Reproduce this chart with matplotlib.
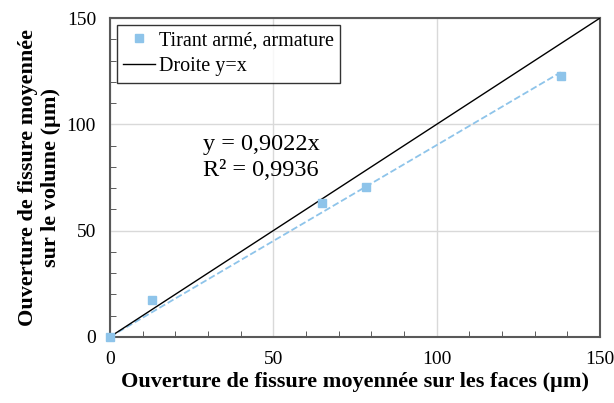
import matplotlib
matplotlib.use('Agg')
import matplotlib.pyplot as plt
import numpy as np
from matplotlib.ticker import MultipleLocator

# Data
x_faces = [0, 13, 65, 78.5, 138]
y_volume = [0, 17.5, 63, 70.5, 122.7]
slope = 0.9022
r2_text = "0,9936"

plt.rcParams['font.family'] = ['Liberation Serif', 'DejaVu Serif']

fig = plt.figure(figsize=(6.14, 4.03), dpi=100)
ax = fig.add_axes([0.179, 0.164, 0.798, 0.791])

blue = '#8ec4ea'
ax.plot(x_faces, y_volume, 's', color=blue, markersize=5.5, label='Tirant armé, armature',
        zorder=4, clip_on=False)
xt = np.array([0, max(x_faces)])
ax.plot(xt, slope * xt, '--', color=blue, lw=1.3, zorder=3)
ax.plot([0, 150], [0, 150], color='black', lw=1.0, label='Droite y=x', zorder=3)

ax.set_xlim(0, 150)
ax.set_ylim(0, 150)
ax.xaxis.set_major_locator(MultipleLocator(50))
ax.yaxis.set_major_locator(MultipleLocator(50))
ax.xaxis.set_minor_locator(MultipleLocator(10))
ax.yaxis.set_minor_locator(MultipleLocator(10))
ax.tick_params(which='major', direction='in', length=0, labelsize=14, pad=10)
ax.tick_params(which='minor', direction='in', length=4, color='#404040')
ax.grid(True, which='major', color='#d9d9d9', lw=1.0)
for s in ax.spines.values():
    s.set_color('#595959')
    s.set_linewidth(1.5)

ax.set_xlabel('Ouverture de fissure moyennée sur les faces (µm)', fontsize=16,
              fontweight='bold', labelpad=3)
ax.set_ylabel('Ouverture de fissure moyennée\nsur le volume (µm)', fontsize=16,
              fontweight='bold', labelpad=4)

ax.text(28.5, 73.5, f"y = {str(slope).replace('.', ',')}x\nR² = {r2_text}", fontsize=17.5,
        linespacing=1.3, va='bottom')

leg = ax.legend(loc='upper left', fontsize=14.5, frameon=True, fancybox=False,
                edgecolor='black', handlelength=1.6, borderaxespad=0.35,
                handletextpad=0.2, labelspacing=0.35, borderpad=0.3)
leg.get_frame().set_linewidth(1.0)

fig.savefig('out.png', dpi=100)
